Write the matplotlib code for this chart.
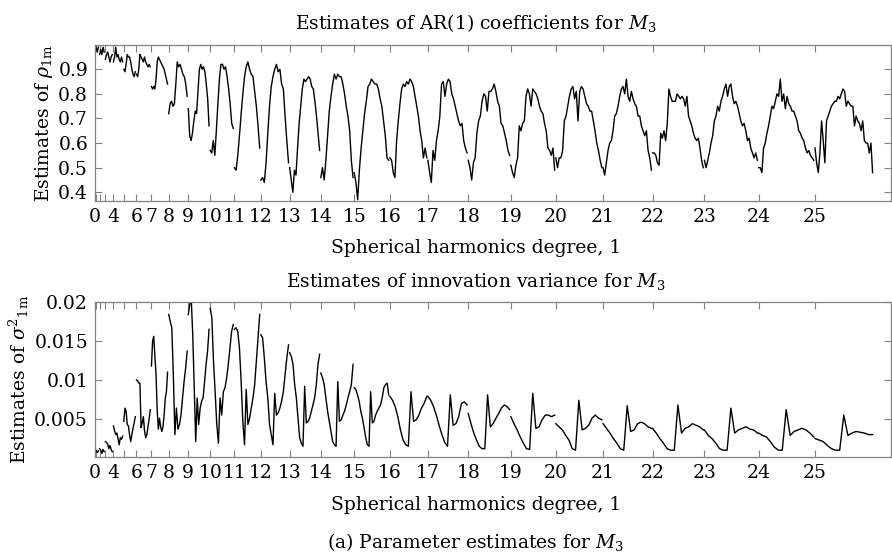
import numpy as np
import matplotlib.pyplot as plt

plt.rcParams['font.family'] = 'DejaVu Serif'
plt.rcParams['mathtext.fontset'] = 'dejavuserif'

#------ Data ------#
degrees = list(range(26))
tick_labels = ['0', '', '', '', '4', '', '6', '7', '8', '9', '10', '11', '12',
               '13', '14', '15', '16', '17', '18', '19', '20', '21', '22', '23',
               '24', '25']

# AR(1) coefficient estimates, one list per degree l (orders -l..l, sampled)
rho_values = [
    [0.99],
    [0.99, 0.97, 0.99],
    [0.96, 0.98, 0.96, 0.99, 0.97],
    [0.94, 0.96, 0.97, 0.95, 0.93, 0.95, 0.96],
    [0.93, 0.95, 0.99, 0.95, 0.96, 0.94, 0.93, 0.95, 0.93],
    [0.90, 0.89, 0.92, 0.96, 0.95, 0.95, 0.93, 0.90, 0.88, 0.87, 0.89],
    [0.88, 0.87, 0.90, 0.96, 0.95, 0.94, 0.93, 0.95, 0.93, 0.92, 0.91, 0.92, 0.91],
    [0.83, 0.82, 0.83, 0.82, 0.86, 0.93, 0.95, 0.94, 0.93, 0.92, 0.91, 0.90, 0.88, 0.86, 0.84],
    [0.72, 0.76, 0.77, 0.75, 0.76, 0.84, 0.93, 0.91, 0.92, 0.90, 0.88, 0.87, 0.84, 0.79],
    [0.74, 0.63, 0.61, 0.64, 0.69, 0.73, 0.72, 0.81, 0.90, 0.92, 0.90, 0.91, 0.89, 0.84, 0.78, 0.67],
    [0.57, 0.56, 0.61, 0.55, 0.65, 0.76, 0.86, 0.92, 0.92, 0.90, 0.91, 0.87, 0.82, 0.76, 0.68, 0.66],
    [0.50, 0.49, 0.55, 0.63, 0.72, 0.80, 0.87, 0.91, 0.93, 0.90, 0.88, 0.87, 0.81, 0.75, 0.67, 0.58],
    [0.45, 0.46, 0.44, 0.52, 0.64, 0.75, 0.83, 0.87, 0.90, 0.92, 0.89, 0.90, 0.84, 0.82, 0.71, 0.61, 0.52],
    [0.50, 0.45, 0.40, 0.49, 0.47, 0.58, 0.68, 0.75, 0.82, 0.86, 0.85, 0.86, 0.87, 0.86, 0.83,
     0.82, 0.77, 0.71, 0.64, 0.57],
    [0.46, 0.50, 0.45, 0.53, 0.63, 0.73, 0.79, 0.84, 0.88, 0.86, 0.88, 0.87, 0.87, 0.84, 0.80,
     0.75, 0.71, 0.65, 0.53, 0.46],
    [0.48, 0.44, 0.37, 0.49, 0.58, 0.65, 0.72, 0.77, 0.83, 0.84, 0.86, 0.85, 0.84, 0.84, 0.82,
     0.78, 0.75, 0.69, 0.63, 0.54, 0.53],
    [0.54, 0.53, 0.48, 0.46, 0.61, 0.69, 0.76, 0.82, 0.84, 0.83, 0.85, 0.84, 0.86, 0.85, 0.83,
     0.79, 0.75, 0.71, 0.65, 0.61, 0.54, 0.58, 0.54],
    [0.53, 0.48, 0.44, 0.57, 0.53, 0.61, 0.65, 0.71, 0.84, 0.85, 0.79, 0.84, 0.86, 0.85, 0.80,
     0.78, 0.75, 0.72, 0.69, 0.67, 0.68, 0.61, 0.58, 0.56],
    [0.53, 0.50, 0.45, 0.52, 0.54, 0.64, 0.69, 0.71, 0.77, 0.80, 0.79, 0.73, 0.81, 0.81, 0.82,
     0.84, 0.81, 0.77, 0.75, 0.68, 0.67, 0.64, 0.61, 0.57, 0.55],
    [0.51, 0.48, 0.46, 0.51, 0.54, 0.67, 0.65, 0.68, 0.69, 0.79, 0.82, 0.80, 0.75, 0.82, 0.81,
     0.80, 0.78, 0.75, 0.73, 0.72, 0.68, 0.65, 0.58, 0.57, 0.55, 0.58, 0.49],
    [0.54, 0.50, 0.54, 0.54, 0.57, 0.69, 0.71, 0.75, 0.79, 0.82, 0.83, 0.78, 0.81, 0.69, 0.81,
     0.83, 0.82, 0.79, 0.76, 0.75, 0.73, 0.73, 0.69, 0.65, 0.60, 0.57, 0.53, 0.50],
    [0.50, 0.47, 0.52, 0.57, 0.60, 0.61, 0.65, 0.71, 0.72, 0.75, 0.79, 0.82, 0.83, 0.80, 0.86,
     0.79, 0.77, 0.81, 0.78, 0.76, 0.75, 0.71, 0.71, 0.67, 0.65, 0.63, 0.65, 0.57, 0.54, 0.49],
    [0.56, 0.56, 0.55, 0.52, 0.51, 0.64, 0.62, 0.65, 0.61, 0.68, 0.82, 0.79, 0.77, 0.77, 0.77,
     0.80, 0.79, 0.78, 0.79, 0.78, 0.75, 0.79, 0.71, 0.69, 0.67, 0.64, 0.62, 0.61, 0.62, 0.58,
     0.53, 0.50],
    [0.53, 0.50, 0.53, 0.56, 0.60, 0.63, 0.69, 0.71, 0.75, 0.73, 0.77, 0.79, 0.82, 0.84, 0.79,
     0.83, 0.84, 0.79, 0.76, 0.77, 0.75, 0.72, 0.69, 0.67, 0.68, 0.65, 0.61, 0.62, 0.58, 0.56,
     0.54, 0.56, 0.53],
    [0.50, 0.50, 0.48, 0.58, 0.60, 0.64, 0.67, 0.71, 0.75, 0.74, 0.77, 0.80, 0.79, 0.86, 0.77,
     0.80, 0.74, 0.79, 0.76, 0.75, 0.73, 0.73, 0.71, 0.69, 0.65, 0.64, 0.62, 0.61, 0.58, 0.56,
     0.57, 0.55, 0.54, 0.53],
    [0.58, 0.52, 0.48, 0.56, 0.69, 0.61, 0.52, 0.69, 0.71, 0.73, 0.75, 0.76, 0.77, 0.77, 0.79,
     0.78, 0.80, 0.82, 0.81, 0.75, 0.77, 0.76, 0.75, 0.75, 0.67, 0.71, 0.69, 0.68, 0.65, 0.69,
     0.61, 0.60, 0.60, 0.56, 0.60, 0.48],
]

# innovation variance estimates, one list per degree l
sigma2_values = [
    [0.0011],
    [0.0010, 0.0007, 0.0009],
    [0.0012, 0.0010, 0.0006, 0.0011, 0.0008],
    [0.0021, 0.0020, 0.0018, 0.0012, 0.0016, 0.0011, 0.0008],
    [0.0041, 0.0035, 0.0030, 0.0032, 0.0025, 0.0017, 0.0026, 0.0024, 0.0028],
    [0.0047, 0.0064, 0.0060, 0.0043, 0.0041, 0.0030, 0.0021, 0.0030, 0.0038, 0.0045, 0.0053],
    [0.0100, 0.0099, 0.0096, 0.0096, 0.0039, 0.0045, 0.0053, 0.0035, 0.0026, 0.0030, 0.0040,
     0.0050, 0.0062],
    [0.0118, 0.0150, 0.0156, 0.0130, 0.0107, 0.0060, 0.0037, 0.0051, 0.0040, 0.0034, 0.0040,
     0.0055, 0.0077, 0.0085, 0.0110],
    [0.0184, 0.0175, 0.0167, 0.0107, 0.0030, 0.0064, 0.0037, 0.0043, 0.0055, 0.0077, 0.0098,
     0.0115, 0.0137],
    [0.0184, 0.0197, 0.0203, 0.0158, 0.0090, 0.0021, 0.0077, 0.0043, 0.0064, 0.0073, 0.0077,
     0.0098, 0.0120, 0.0137, 0.0165],
    [0.0192, 0.0180, 0.0124, 0.0085, 0.0043, 0.0019, 0.0077, 0.0055, 0.0085, 0.0090, 0.0103,
     0.0120, 0.0141, 0.0162, 0.0171],
    [0.0165, 0.0167, 0.0162, 0.0141, 0.0098, 0.0047, 0.0017, 0.0088, 0.0043, 0.0051, 0.0064,
     0.0077, 0.0094, 0.0124, 0.0154, 0.0184],
    [0.0158, 0.0154, 0.0128, 0.0098, 0.0077, 0.0043, 0.0030, 0.0017, 0.0083, 0.0055, 0.0058,
     0.0064, 0.0073, 0.0085, 0.0107, 0.0128, 0.0145],
    [0.0135, 0.0130, 0.0120, 0.0094, 0.0077, 0.0051, 0.0026, 0.0019, 0.0015, 0.0092, 0.0045,
     0.0047, 0.0051, 0.0060, 0.0068, 0.0077, 0.0094, 0.0120, 0.0133],
    [0.0109, 0.0103, 0.0094, 0.0077, 0.0060, 0.0047, 0.0034, 0.0021, 0.0017, 0.0015, 0.0098,
     0.0047, 0.0049, 0.0055, 0.0060, 0.0068, 0.0077, 0.0085, 0.0094, 0.0120],
    [0.0090, 0.0088, 0.0081, 0.0073, 0.0060, 0.0051, 0.0039, 0.0026, 0.0017, 0.0015, 0.0085,
     0.0045, 0.0047, 0.0055, 0.0060, 0.0064, 0.0068, 0.0077, 0.0090, 0.0094, 0.0096, 0.0081],
    [0.0079, 0.0074, 0.0066, 0.0053, 0.0036, 0.0023, 0.0017, 0.0015, 0.0085, 0.0047, 0.0049,
     0.0055, 0.0064, 0.0070, 0.0079],
    [0.0079, 0.0074, 0.0066, 0.0055, 0.0042, 0.0030, 0.0020, 0.0015, 0.0081, 0.0042, 0.0044,
     0.0053, 0.0070, 0.0072, 0.0068],
    [0.0057, 0.0044, 0.0032, 0.0023, 0.0015, 0.0012, 0.0012, 0.0081, 0.0040, 0.0044, 0.0051,
     0.0057, 0.0064, 0.0068, 0.0066, 0.0062],
    [0.0053, 0.0044, 0.0036, 0.0027, 0.0019, 0.0012, 0.0011, 0.0083, 0.0038, 0.0040, 0.0049,
     0.0055, 0.0055, 0.0053, 0.0055],
    [0.0044, 0.0040, 0.0036, 0.0029, 0.0023, 0.0012, 0.0010, 0.0074, 0.0036, 0.0038, 0.0042,
     0.0051, 0.0055, 0.0051, 0.0049],
    [0.0044, 0.0038, 0.0032, 0.0025, 0.0019, 0.0012, 0.0010, 0.0067, 0.0034, 0.0036, 0.0044,
     0.0046, 0.0044, 0.0040, 0.0038],
    [0.0038, 0.0032, 0.0025, 0.0019, 0.0012, 0.0010, 0.0010, 0.0068, 0.0032, 0.0038, 0.0040,
     0.0044, 0.0042, 0.0040, 0.0036],
    [0.0036, 0.0029, 0.0025, 0.0019, 0.0012, 0.0010, 0.0010, 0.0064, 0.0032, 0.0036, 0.0038,
     0.0040, 0.0037, 0.0036, 0.0032],
    [0.0032, 0.0029, 0.0027, 0.0021, 0.0014, 0.0010, 0.0010, 0.0062, 0.0029, 0.0034, 0.0036,
     0.0038, 0.0036, 0.0032, 0.0027],
    [0.0025, 0.0023, 0.0021, 0.0016, 0.0012, 0.0010, 0.0010, 0.0055, 0.0029, 0.0032, 0.0034,
     0.0033, 0.0032, 0.0030, 0.0030],
]

rho_yticks = [0.4, 0.5, 0.6, 0.7, 0.8, 0.9]
sigma2_yticks = [0.005, 0.01, 0.015, 0.02]
sigma2_yticklabels = ['0.005', '0.01', '0.015', '0.02']
#---------------------------------------#

frame_color = '#808080'
fs = 13.5

fig = plt.figure(figsize=(8.92, 5.54), dpi=100)
ax1 = fig.add_axes([0.1065, 0.6372, 0.8924, 0.2816])
ax2 = fig.add_axes([0.1065, 0.1751, 0.8924, 0.2798])


def draw_degrees(ax, values):
    # each degree l occupies 2l+1 coefficient slots starting at l^2
    for l, vals in zip(degrees, values):
        x = l**2 + np.linspace(0, 2*l, len(vals))
        ax.plot(x, vals, color='black', lw=1.0)


def style_axis(ax):
    ax.set_xlim(0, 691)
    ax.set_xticks([l**2 for l in degrees])
    ax.set_xticklabels(tick_labels)
    ax.tick_params(direction='in', top=True, right=True, length=5,
                   color=frame_color, labelsize=13.5, pad=5)
    for s in ax.spines.values():
        s.set_color(frame_color)
        s.set_linewidth(0.9)


draw_degrees(ax1, rho_values)
style_axis(ax1)
ax1.set_ylim(0.3646, 0.9988)
ax1.set_yticks(rho_yticks)
ax1.set_yticklabels(['0.4', '0.5', '0.6', '0.7', '0.8', '0.9'])
ax1.set_ylabel(r'Estimates of $\rho_{\mathrm{1m}}$', fontsize=fs, labelpad=2)

draw_degrees(ax2, sigma2_values)
style_axis(ax2)
ax2.set_ylim(0.00013, 0.02)
ax2.set_yticks(sigma2_yticks)
ax2.set_yticklabels(sigma2_yticklabels)
ax2.set_ylabel(r'Estimates of $\sigma^{2}{}_{\mathrm{1m}}$', fontsize=fs, labelpad=2)

xc = 476 / 892
fig.text(xc, 1 - 23/554, r'Estimates of AR(1) coefficients for $M_3$',
         ha='center', va='center', fontsize=fs)
fig.text(xc, 1 - 248/554, 'Spherical harmonics degree, 1',
         ha='center', va='center', fontsize=fs)
fig.text(xc, 1 - 282/554, r'Estimates of innovation variance for $M_3$',
         ha='center', va='center', fontsize=fs)
fig.text(xc, 1 - 505/554, 'Spherical harmonics degree, 1',
         ha='center', va='center', fontsize=fs)
fig.text(xc, 1 - 542/554, r'(a) Parameter estimates for $M_3$',
         ha='center', va='center', fontsize=fs)

fig.savefig('out.png', dpi=100)
